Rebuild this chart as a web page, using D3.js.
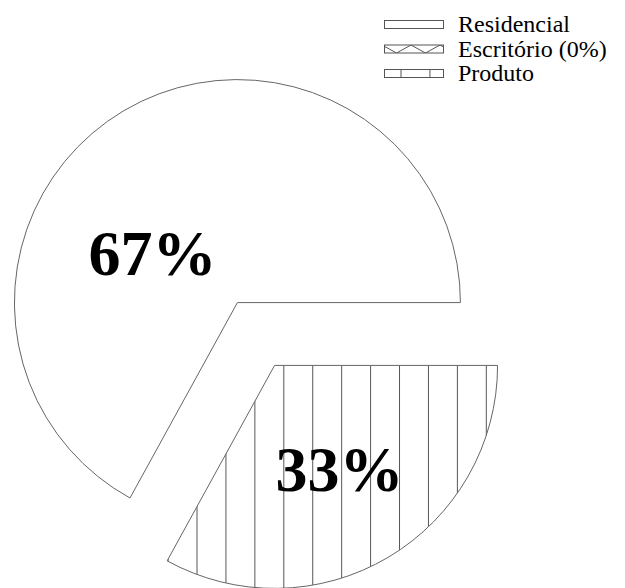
<!DOCTYPE html>
<html>
<head>
<meta charset="utf-8">
<script src="https://cdn.jsdelivr.net/npm/d3@7"></script>
<style>
  body { margin: 0; background: #fff; }
  svg { display: block; }
</style>
</head>
<body>
<svg id="chart" width="625" height="588"></svg>
<script>
// Data
const categories = ["Residencial", "Escritório (0%)", "Produto"];
const shares = [67, 0, 33];
const labels = ["67%", "", "33%"];

const svgWidth = 625;
const svgHeight = 588;
const cx = 256, cy = 334;
const radius = 223;
const explode = 36.5;
const serif = '"Liberation Serif", "Times New Roman", serif';
// label offsets from each slice's own corner
const labelOffset = [[-85, -28], [0, 0], [65, 126]];
const hatchStep = 28.93;

const svg = d3.select("#chart");
const defs = svg.append("defs");

// vertical hatch, phase given in the user space of the element that uses it
function vlines(id, x0) {
    const p = defs.append("pattern").attr("id", id)
        .attr("patternUnits", "userSpaceOnUse")
        .attr("x", x0).attr("width", hatchStep).attr("height", 20);
    p.append("rect").attr("width", hatchStep).attr("height", 20).attr("fill", "#fff");
    p.append("line").attr("x1", 0.5).attr("x2", 0.5).attr("y1", 0).attr("y2", 20)
        .attr("stroke", "#555").attr("stroke-width", 1);
}

const zz = defs.append("pattern").attr("id", "zigzag")
    .attr("patternUnits", "userSpaceOnUse")
    .attr("x", -2).attr("y", 0.5).attr("width", 29).attr("height", 8);
zz.append("rect").attr("width", 29).attr("height", 8).attr("fill", "#fff");
zz.append("path").attr("d", "M0,0 L14.5,8 L29,0").attr("fill", "none")
    .attr("stroke", "#555").attr("stroke-width", 1);

// Pie (counterclockwise from 3 o'clock)
const pie = d3.pie().sort(null).value(d => d)
    .startAngle(Math.PI / 2).endAngle(Math.PI / 2 - 2 * Math.PI);
const arcs = pie(shares);
const arc = d3.arc().innerRadius(0).outerRadius(radius);

const g = svg.append("g");
arcs.forEach((a, i) => {
    if (a.value === 0) return;
    const mid = (a.startAngle + a.endAngle) / 2;
    const ox = cx + explode * Math.sin(mid);
    const oy = cy - explode * Math.cos(mid);
    let fill = "#fff";
    if (i === 2) {
        vlines("hatch-slice", 283.3 - ox);
        fill = "url(#hatch-slice)";
    }
    const sg = g.append("g").attr("transform", `translate(${ox},${oy})`);
    sg.append("path")
        .attr("d", arc(a))
        .attr("fill", fill)
        .attr("stroke", "#666")
        .attr("stroke-width", 1);
    sg.append("text")
        .attr("x", labelOffset[i][0])
        .attr("y", labelOffset[i][1])
        .attr("text-anchor", "middle")
        .style("font-family", serif)
        .style("font-weight", "bold")
        .style("font-size", "64px")
        .attr("fill", "#000")
        .text(labels[i]);
});

// Legend
vlines("hatch-legend", 16.5);
const legendFills = ["#fff", "url(#zigzag)", "url(#hatch-legend)"];
const legend = svg.append("g").attr("transform", "translate(384,20)");
categories.forEach((c, i) => {
    const row = legend.append("g").attr("transform", `translate(0,${i * 24.5})`);
    row.append("rect")
        .attr("x", 0.5).attr("y", 0.5)
        .attr("width", 59).attr("height", 8)
        .attr("fill", legendFills[i])
        .attr("stroke", "#555").attr("stroke-width", 1);
    row.append("text")
        .attr("x", 74).attr("y", 12)
        .style("font-family", serif)
        .style("font-size", "24px")
        .attr("fill", "#000")
        .text(c);
});
</script>
</body>
</html>
